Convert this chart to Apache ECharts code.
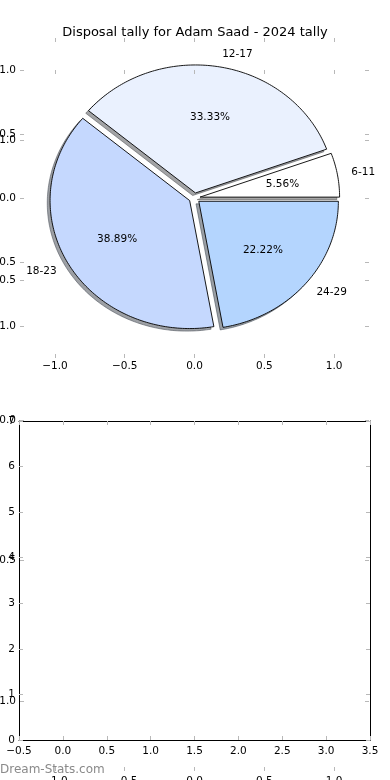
<!DOCTYPE html>
<html><head><meta charset="utf-8">
<script src="https://cdn.jsdelivr.net/npm/echarts@6/dist/echarts.min.js"></script>
<style>html,body{margin:0;padding:0;background:#fff}#c{width:390px;height:780px}</style>
</head><body><div id="c"></div>
<script>
const titleText = 'Disposal tally for Adam Saad - 2024 tally';
const watermarkText = 'Dream-Stats.com';
const categories = ['6-11', '12-17', '18-23', '24-29'];
const games = [1, 6, 7, 4];
const explode = [0.04, 0.04, 0.04, 0.04];
const sliceColors = ['#ffffff', '#eaf1fe', '#c5d8fe', '#b4d5fe'];
const pieTicks = [-1, -0.5, 0, 0.5, 1];
const lowerXRange = [-0.5, 3.5];
const lowerYRange = [0, 7];

const FONT = 'DejaVu Sans';
const FS = 10.5;
const fmt1 = v => (v < 0 ? '\u2212' : '') + Math.abs(v).toFixed(1);
const total = games.reduce((a, b) => a + b, 0);

function geom(i) {
  let start = 0;
  for (let k = 0; k < i; k++) start += games[k];
  const t1 = start / total * 360, t2 = (start + games[i]) / total * 360;
  const tm = (t1 + t2) / 2 * Math.PI / 180;
  return { t1, t2, tm, cx: explode[i] * Math.cos(tm), cy: explode[i] * Math.sin(tm) };
}
function wedgePts(api, i, dx, dy) {
  const g = geom(i);
  const pts = [api.coord([g.cx + dx, g.cy + dy])];
  const n = Math.max(6, Math.ceil(g.t2 - g.t1));
  for (let k = 0; k <= n; k++) {
    const a = (g.t1 + (g.t2 - g.t1) * k / n) * Math.PI / 180;
    pts.push(api.coord([g.cx + dx + Math.cos(a), g.cy + dy + Math.sin(a)]));
  }
  return pts;
}
function shade(hex) {
  const r = parseInt(hex.slice(1, 3), 16), g = parseInt(hex.slice(3, 5), 16), b = parseInt(hex.slice(5, 7), 16);
  return 'rgba(' + Math.round(r * 0.3) + ',' + Math.round(g * 0.3) + ',' + Math.round(b * 0.3) + ',0.5)';
}

const tick = () => ({ show: true, inside: true, length: 4, lineStyle: { color: '#b8b8b8', width: 1 } });
function axis(kind, gridIndex, position, min, max, showLabel, frame, z, custom, interval, fmt, margin) {
  const a = {
    type: 'value', gridIndex, position, min, max, z,
    splitLine: { show: false },
    axisLine: { show: frame, onZero: false, lineStyle: { color: '#000', width: 1 } },
    axisTick: tick(),
    axisLabel: { show: showLabel, color: '#000', fontFamily: FONT, fontSize: FS,
      margin: margin, formatter: fmt, showMinLabel: true, showMaxLabel: true }
  };
  if (custom) { a.axisTick.customValues = custom; a.axisLabel.customValues = custom; }
  if (interval) a.interval = interval;
  return a;
}

const xAxes = [
  axis('x', 0, 'bottom', -1.25, 1.25, true, false, 1, pieTicks, null, fmt1, 3),
  axis('x', 0, 'top', -1.25, 1.25, false, false, 1, pieTicks, null, fmt1, 3),
  axis('x', 1, 'bottom', -1.25, 1.25, true, false, 5, pieTicks, null, fmt1, 5),
  axis('x', 1, 'top', -1.25, 1.25, false, false, 5, pieTicks, null, fmt1, 3),
  axis('x', 2, 'bottom', lowerXRange[0], lowerXRange[1], true, true, 4, null, 0.5, fmt1, 6),
  axis('x', 2, 'top', lowerXRange[0], lowerXRange[1], false, true, 4, null, 0.5, fmt1, 3)
];
const yAxes = [
  axis('y', 0, 'left', -1.25, 1.25, true, false, 1, pieTicks, null, fmt1, 4),
  axis('y', 0, 'right', -1.25, 1.25, false, false, 1, pieTicks, null, fmt1, 4),
  axis('y', 1, 'left', -1.25, 1.25, true, false, 5, pieTicks, null, fmt1, 4),
  axis('y', 1, 'right', -1.25, 1.25, false, false, 5, pieTicks, null, fmt1, 4),
  axis('y', 2, 'left', lowerYRange[0], lowerYRange[1], true, true, 4, null, 1, v => String(v), 4),
  axis('y', 2, 'right', lowerYRange[0], lowerYRange[1], false, true, 4, null, 1, v => String(v), 4)
];

const pieData = categories.map((c, i) => ({ name: c, value: [0, games[i]] }));
const labelFont = FS + 'px "DejaVu Sans"';

const option = {
  animation: false,
  backgroundColor: '#fff',
  title: { text: titleText, left: 'center', top: 21,
    textStyle: { fontFamily: FONT, fontSize: 13, fontWeight: 'normal', color: '#000' } },
  graphic: [{ type: 'text', left: 0, top: 764, z: 10,
    style: { text: watermarkText, fill: '#8a8a8a', font: '12px "DejaVu Sans"' } }],
  grid: [
    { left: 20, top: 38, width: 349, height: 320, outerBoundsMode: 'none', containLabel: false },
    { left: 20, top: 70, width: 349, height: 701, outerBoundsMode: 'none', containLabel: false },
    { left: 19, top: 421, width: 351, height: 319, outerBoundsMode: 'none', containLabel: false }
  ],
  xAxis: xAxes,
  yAxis: yAxes,
  series: [
    { type: 'custom', name: 'shadow', coordinateSystem: 'cartesian2d', xAxisIndex: 0, yAxisIndex: 0,
      clip: false, z: 1, silent: true, data: pieData,
      renderItem: (params, api) => ({ type: 'polygon',
        shape: { points: wedgePts(api, params.dataIndex, -0.02, -0.02) },
        style: { fill: shade(sliceColors[params.dataIndex]), stroke: shade(sliceColors[params.dataIndex]), lineWidth: 1 } }) },
    { type: 'custom', name: 'wedges', coordinateSystem: 'cartesian2d', xAxisIndex: 0, yAxisIndex: 0,
      clip: false, z: 2, silent: true, data: pieData,
      renderItem: (params, api) => ({ type: 'polygon',
        shape: { points: wedgePts(api, params.dataIndex, 0, 0) },
        style: { fill: sliceColors[params.dataIndex], stroke: '#000', lineWidth: 0.9 } }) },
    { type: 'custom', name: 'labels', coordinateSystem: 'cartesian2d', xAxisIndex: 0, yAxisIndex: 0,
      clip: false, z: 3, silent: true, data: pieData,
      renderItem: (params, api) => {
        const i = params.dataIndex, g = geom(i);
        const lx = g.cx + 1.1 * Math.cos(g.tm), ly = g.cy + 1.1 * Math.sin(g.tm);
        const px = g.cx + 0.6 * Math.cos(g.tm), py = g.cy + 0.6 * Math.sin(g.tm);
        const lp = api.coord([lx, ly]), pp = api.coord([px, py]);
        return { type: 'group', children: [
          { type: 'text', x: lp[0], y: lp[1], style: { text: categories[i], fill: '#000',
            font: labelFont, align: lx > 0 ? 'left' : 'right', verticalAlign: 'middle' } },
          { type: 'text', x: pp[0], y: pp[1], style: { text: (games[i] / total * 100).toFixed(2) + '%', fill: '#000',
            font: labelFont, align: 'center', verticalAlign: 'middle' } }
        ] };
      } }
  ]
};
echarts.init(document.getElementById('c'), null, { renderer: 'canvas' }).setOption(option);
</script></body></html>
